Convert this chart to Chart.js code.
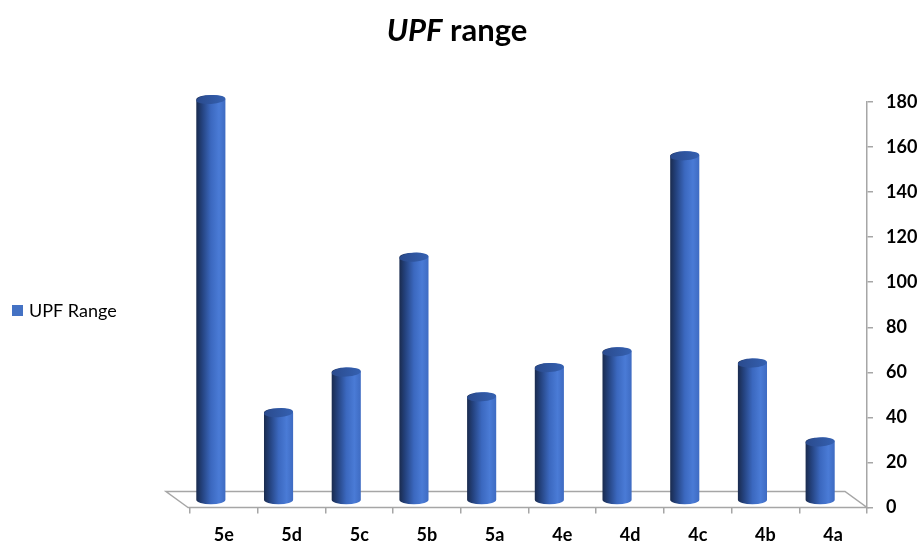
<!DOCTYPE html>
<html>
<head>
<meta charset="utf-8">
<script src="https://cdn.jsdelivr.net/npm/chart.js@4/dist/chart.umd.min.js"></script>
<style>
  html, body { margin: 0; padding: 0; background: #ffffff; }
  #wrap { width: 920px; height: 544px; position: relative; }
</style>
</head>
<body>
<div id="wrap"><canvas id="c" width="920" height="544"></canvas></div>
<script>
// Categories and series values
const categories = ['5e', '5d', '5c', '5b', '5a', '4e', '4d', '4c', '4b', '4a'];
const upfRange = [178, 39, 57, 108, 46, 59, 66, 153, 61, 26];
const seriesName = 'UPF Range';
const yMin = 0;
const yMax = 180;
const yStep = 20;

const FONT = 'Lato, "Open Sans", "Liberation Sans", sans-serif';
const GRAY = '#a6a6a6';
// Depth offset of the bars behind the front edge of the floor
const DEPTH_DX = -13;
const DEPTH_DY = -7;

function drawCylinder(ctx, cx, top, bottom, w) {
  const r = w / 2;
  const ry = 4.5;
  const g = ctx.createLinearGradient(cx - r, 0, cx + r, 0);
  g.addColorStop(0, '#1a2b4e');
  g.addColorStop(0.2, '#24427e');
  g.addColorStop(0.5, '#3b68bf');
  g.addColorStop(0.78, '#4a7bd6');
  g.addColorStop(1, '#3e6bc2');
  ctx.beginPath();
  ctx.moveTo(cx - r, top);
  ctx.lineTo(cx - r, bottom);
  ctx.ellipse(cx, bottom, r, ry, 0, Math.PI, 0, true);
  ctx.lineTo(cx + r, top);
  ctx.ellipse(cx, top, r, ry, 0, 0, Math.PI, true);
  ctx.closePath();
  ctx.fillStyle = g;
  ctx.fill();
  // top cap
  const cg = ctx.createLinearGradient(cx - r, top, cx + r, top);
  cg.addColorStop(0, '#2a4a8c');
  cg.addColorStop(1, '#3561b2');
  ctx.beginPath();
  ctx.ellipse(cx, top, r, ry, -0.06, 0, Math.PI * 2);
  ctx.fillStyle = cg;
  ctx.fill();
}

const chartDecor = {
  id: 'chartDecor',
  beforeDraw(chart) {
    const ctx = chart.ctx;
    ctx.save();
    ctx.fillStyle = '#ffffff';
    ctx.fillRect(0, 0, chart.width, chart.height);
    ctx.restore();
  },
  beforeDatasetsDraw(chart) {
    // floor of the 3D plot
    const { ctx, chartArea: a } = chart;
    ctx.save();
    ctx.strokeStyle = GRAY;
    ctx.lineWidth = 1.5;
    ctx.beginPath();
    ctx.moveTo(a.left - 2, a.bottom);
    ctx.lineTo(a.left - 24, a.bottom - 16);
    ctx.lineTo(a.right - 22, a.bottom - 16);
    ctx.lineTo(a.right, a.bottom);
    ctx.closePath();
    ctx.stroke();
    ctx.restore();
  },
  afterDatasetsDraw(chart) {
    const ctx = chart.ctx;
    const meta = chart.getDatasetMeta(0);
    ctx.save();
    meta.data.forEach(bar => {
      const p = bar.getProps(['x', 'y', 'base', 'width'], true);
      drawCylinder(ctx, p.x + DEPTH_DX, p.y + DEPTH_DY, p.base + DEPTH_DY, p.width);
    });
    ctx.restore();
  },
  afterDraw(chart) {
    const ctx = chart.ctx;
    ctx.save();
    // title: italic "UPF" followed by "range"
    ctx.fillStyle = '#000000';
    ctx.textBaseline = 'middle';
    const f1 = 'italic bold 31px ' + FONT;
    const f2 = 'bold 31px ' + FONT;
    const t1 = 'UPF', t2 = ' range';
    ctx.font = f1; const w1 = ctx.measureText(t1).width;
    ctx.font = f2; const w2 = ctx.measureText(t2).width;
    const x0 = 457 - (w1 + w2) / 2;
    ctx.font = f1; ctx.fillText(t1, x0, 31);
    ctx.font = f2; ctx.fillText(t2, x0 + w1, 31);
    // legend
    ctx.fillStyle = '#4472c4';
    ctx.fillRect(12, 305, 11, 11);
    ctx.fillStyle = '#000000';
    ctx.font = '18px ' + FONT;
    ctx.fillText(seriesName, 29, 311);
    ctx.restore();
  }
};

new Chart(document.getElementById('c'), {
  type: 'bar',
  data: {
    labels: categories,
    datasets: [{
      label: seriesName,
      data: upfRange,
      backgroundColor: 'rgba(0,0,0,0)',
      borderWidth: 0,
      barPercentage: 0.43,
      categoryPercentage: 1.0
    }]
  },
  options: {
    responsive: false,
    animation: false,
    events: [],
    layout: { padding: { left: 190, top: 102, right: 0, bottom: 0 } },
    plugins: { legend: { display: false }, title: { display: false }, tooltip: { enabled: false } },
    scales: {
      x: {
        type: 'category',
        offset: true,
        grid: { display: true, offset: true, drawOnChartArea: false, tickLength: 6, color: GRAY, lineWidth: 1.5 },
        border: { display: false },
        ticks: { color: '#000000', font: { family: FONT, size: 18, weight: 'bold' }, padding: 11 },
        afterFit(s) { s.height = 36.5; }
      },
      y: {
        type: 'linear',
        position: 'right',
        min: yMin,
        max: yMax,
        grid: { display: true, drawOnChartArea: false, tickLength: 6, color: GRAY, lineWidth: 1.5 },
        border: { display: true, color: GRAY, width: 1.5 },
        ticks: { stepSize: yStep, color: '#000000', font: { family: FONT, size: 18, weight: 'bold' }, padding: 13 },
        afterFit(s) { s.width = 53; }
      }
    }
  },
  plugins: [chartDecor]
});
</script>
</body>
</html>
